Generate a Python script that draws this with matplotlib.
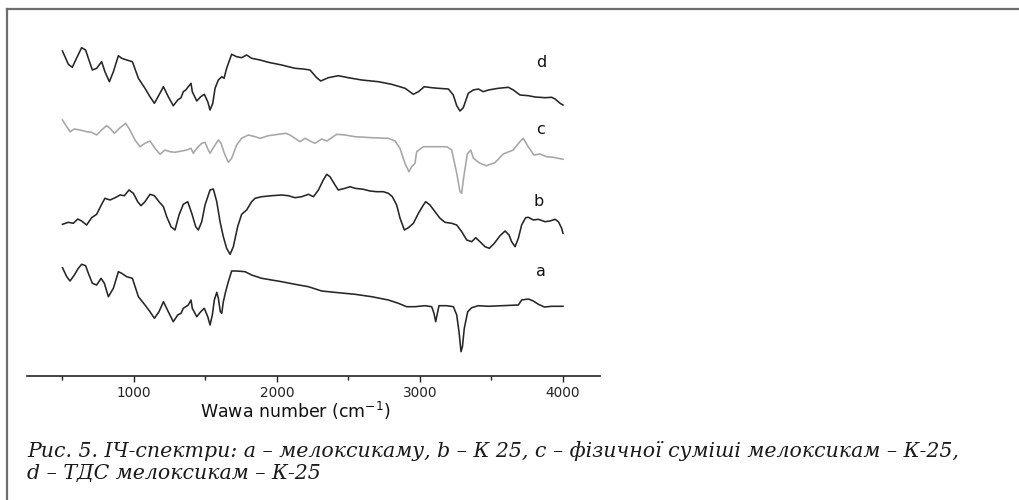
import matplotlib
matplotlib.use("Agg")
import matplotlib.pyplot as plt
from matplotlib.lines import Line2D

# ---------------- data (wavenumber, cm^-1 ; relative transmittance, arb. units, stacked) -------------
wn_a = [500, 530, 553, 583, 611, 634, 662, 681, 709, 739, 770, 793, 821, 856, 891, 914, 949, 989,
        1031, 1077, 1112, 1143, 1175, 1206, 1240, 1275, 1306, 1329, 1345, 1362, 1380, 1399, 1408,
        1439, 1467, 1492, 1516, 1532, 1548, 1562, 1579, 1590, 1604, 1614, 1625, 1641, 1660, 1683,
        1718, 1777, 1823, 1893, 1963, 2033, 2126, 2220, 2313, 2429, 2546, 2662, 2779, 2849, 2907,
        2965, 3035, 3082, 3098, 3110, 3122, 3133, 3187, 3234, 3257, 3273, 3287, 3297, 3310, 3334,
        3362, 3408, 3478, 3572, 3688, 3711, 3758, 3793, 3828, 3870, 3921, 4000]
int_a = [108.3, 99.3, 95.0, 101.0, 107.7, 111.7, 110.3, 102.7, 92.7, 91.0, 97.7, 92.7, 79.3, 87.7,
         104.3, 102.7, 99.3, 97.7, 79.3, 71.0, 64.3, 57.7, 64.3, 74.3, 64.3, 54.3, 61.0, 62.7, 67.7,
         69.3, 71.0, 76.0, 67.7, 59.3, 64.3, 67.7, 59.3, 51.0, 61.0, 76.0, 83.7, 77.7, 64.3, 62.7,
         74.3, 84.3, 94.3, 105.0, 105.0, 104.3, 101.0, 97.7, 96.0, 94.3, 91.7, 89.3, 85.0, 83.3,
         81.7, 79.3, 76.0, 72.7, 69.3, 69.3, 70.3, 69.3, 62.7, 54.3, 62.7, 70.3, 70.3, 69.3, 61.0,
         44.3, 24.3, 29.3, 47.7, 64.3, 68.3, 70.3, 69.7, 70.3, 71.0, 76.0, 77.0, 75.0, 71.7, 69.0,
         69.7, 69.7]

wn_b = [500, 541, 576, 607, 634, 669, 704, 739, 774, 797, 833, 868, 903, 933, 965, 996, 1026, 1049,
        1077, 1112, 1143, 1175, 1206, 1229, 1259, 1287, 1315, 1345, 1376, 1404, 1432, 1450, 1474,
        1497, 1532, 1555, 1579, 1602, 1625, 1648, 1672, 1695, 1725, 1753, 1788, 1823, 1847, 1893,
        1963, 2033, 2080, 2126, 2173, 2220, 2255, 2290, 2324, 2348, 2371, 2406, 2429, 2476, 2511,
        2546, 2604, 2651, 2697, 2744, 2779, 2807, 2837, 2861, 2891, 2919, 2954, 2989, 3024, 3040,
        3070, 3105, 3140, 3175, 3222, 3257, 3292, 3327, 3362, 3390, 3420, 3455, 3485, 3520, 3560,
        3595, 3623, 3641, 3665, 3688, 3711, 3739, 3758, 3793, 3828, 3875, 3910, 3945, 3968, 3991,
        4000]
int_b = [151.7, 153.7, 152.7, 157.0, 155.0, 151.0, 158.3, 161.7, 171.7, 177.7, 176.0, 178.3, 181.0,
         180.3, 186.0, 182.7, 174.3, 170.3, 174.3, 181.7, 180.3, 174.3, 169.3, 159.3, 149.3, 146.0,
         161.0, 171.7, 174.3, 162.7, 149.3, 146.0, 154.3, 171.0, 186.0, 187.0, 174.3, 154.3, 139.3,
         127.7, 121.7, 129.3, 149.3, 161.7, 166.0, 174.3, 177.7, 179.3, 180.3, 181.0, 180.3, 178.3,
         179.3, 181.7, 179.3, 186.0, 196.0, 201.7, 199.3, 191.0, 186.0, 187.7, 189.3, 187.7, 186.7,
         185.0, 184.3, 184.3, 182.7, 179.3, 171.0, 157.7, 146.0, 148.3, 152.7, 162.7, 171.0, 174.3,
         171.0, 164.3, 157.7, 153.7, 152.7, 151.0, 144.3, 136.0, 134.3, 138.3, 134.3, 129.3, 127.7,
         132.7, 140.3, 145.0, 141.0, 134.3, 129.3, 137.7, 151.0, 158.3, 158.7, 156.0, 156.7, 154.3,
         155.0, 156.7, 154.3, 147.7, 142.7]

wn_c = [500, 530, 553, 583, 623, 669, 704, 739, 774, 809, 833, 863, 903, 942, 972, 1007, 1042, 1077,
        1112, 1147, 1182, 1217, 1252, 1287, 1334, 1369, 1399, 1415, 1439, 1474, 1497, 1520, 1532,
        1555, 1590, 1609, 1632, 1660, 1683, 1718, 1753, 1800, 1847, 1882, 1940, 2010, 2061, 2091,
        2126, 2161, 2196, 2231, 2266, 2313, 2348, 2383, 2418, 2476, 2546, 2662, 2779, 2826, 2860,
        2895, 2923, 2942, 2965, 2977, 3023, 3187, 3222, 3257, 3280, 3292, 3303, 3331, 3355, 3374,
        3420, 3466, 3524, 3583, 3652, 3699, 3722, 3757, 3797, 3839, 3886, 3932, 4000]
int_c = [256.0, 249.3, 244.3, 247.0, 246.0, 244.3, 243.7, 241.0, 246.0, 250.3, 247.7, 242.7, 248.3,
         252.7, 246.0, 236.0, 229.3, 232.7, 235.0, 227.7, 221.7, 226.0, 224.3, 223.7, 225.0, 226.0,
         227.7, 222.7, 227.7, 232.7, 233.7, 226.0, 222.7, 228.3, 236.0, 232.7, 222.7, 213.7, 217.7,
         231.0, 237.7, 241.0, 239.3, 237.7, 240.3, 241.7, 242.7, 241.0, 237.7, 234.3, 237.7, 235.0,
         232.7, 237.0, 235.0, 238.3, 241.7, 241.0, 239.3, 238.3, 237.7, 235.0, 227.7, 212.7, 204.3,
         209.3, 212.7, 224.3, 229.3, 229.3, 226.0, 202.7, 184.3, 182.7, 196.0, 222.0, 226.0, 217.7,
         212.7, 210.3, 213.3, 222.0, 226.0, 234.3, 237.7, 229.3, 221.0, 222.0, 219.3, 218.7, 216.7]

wn_d = [500, 541, 569, 600, 634, 662, 681, 709, 739, 774, 797, 828, 856, 891, 914, 949, 989, 1031,
        1077, 1112, 1143, 1175, 1206, 1240, 1275, 1306, 1329, 1345, 1362, 1380, 1399, 1408, 1439,
        1467, 1492, 1516, 1532, 1551, 1567, 1590, 1614, 1630, 1648, 1683, 1718, 1753, 1788, 1823,
        1882, 1940, 2033, 2126, 2185, 2231, 2278, 2306, 2359, 2429, 2499, 2593, 2709, 2802, 2896,
        2954, 2989, 3031, 3082, 3129, 3199, 3233, 3257, 3280, 3303, 3338, 3373, 3408, 3443, 3478,
        3548, 3618, 3653, 3700, 3758, 3805, 3875, 3921, 3945, 3980, 4000]
int_d = [325.0, 311.7, 308.7, 318.3, 328.3, 326.0, 317.7, 306.0, 307.7, 314.3, 304.3, 294.3, 304.3,
         320.3, 317.7, 316.0, 314.3, 297.7, 287.7, 279.3, 272.7, 281.0, 289.3, 279.3, 270.3, 276.0,
         278.3, 284.3, 286.0, 289.3, 292.7, 284.3, 275.0, 279.3, 281.7, 274.3, 266.0, 272.7, 287.7,
         296.0, 299.3, 297.7, 307.7, 321.7, 319.3, 318.3, 321.0, 317.7, 316.0, 313.7, 311.0, 307.7,
         307.0, 306.0, 298.3, 295.0, 298.3, 300.3, 298.3, 296.0, 294.3, 291.7, 287.7, 281.7, 284.3,
         289.3, 288.3, 287.7, 287.0, 281.0, 270.3, 265.0, 268.3, 282.7, 286.0, 287.0, 284.3, 286.0,
         287.7, 288.7, 286.0, 281.0, 280.3, 279.0, 278.3, 278.7, 277.0, 272.7, 271.0]

series_names = ["a", "b", "c", "d"]
label_pos = {"a": (3846, 104), "b": (3832, 175), "c": (3846, 246), "d": (3846, 313.5)}

major_ticks = [1000, 2000, 3000, 4000]
minor_ticks = [500, 1500, 2500, 3500]
xlabel = "Wawa number (cm$^{-1}$)"
caption1 = "Рис. 5. ІЧ-спектри: a – мелоксикаму, b – К 25, c – фізичної суміші мелоксикам – К-25,"
caption2 = "d – ТДС мелоксикам – К-25"

# ---------------- figure ----------------
W, H = 1019, 500
fig = plt.figure(figsize=(W / 100, H / 100), dpi=100)
fig.patch.set_facecolor("white")

ax = fig.add_axes([27 / W, 1 - 376 / H, 573 / W, 356 / H])
ax.set_xlim(252, 4259)
ax.set_ylim(0, 356)

dark = "#262626"
light = "#a6a6a6"
ax.plot(wn_a, int_a, color=dark, lw=1.15)
ax.plot(wn_b, int_b, color=dark, lw=1.15)
ax.plot(wn_c, int_c, color=light, lw=1.15)
ax.plot(wn_d, int_d, color=dark, lw=1.15)

for name in series_names:
    x, y = label_pos[name]
    ax.text(x, y, name, ha="center", va="center", fontsize=11.5,
            family="DejaVu Sans", color="#111111")

for s in ["top", "right", "left"]:
    ax.spines[s].set_visible(False)
ax.spines["bottom"].set_linewidth(1.2)
ax.spines["bottom"].set_color("#222222")
ax.set_yticks([])
ax.set_xticks(major_ticks)
ax.set_xticks(minor_ticks, minor=True)
ax.tick_params(axis="x", which="major", direction="out", length=4.5, width=1.0,
               labelsize=9.8, pad=3, colors="#222222")
ax.tick_params(axis="x", which="minor", direction="out", length=3, width=1.0, colors="#222222")
for lbl in ax.get_xticklabels():
    lbl.set_family("DejaVu Sans")
ax.set_xlabel(xlabel, fontsize=12.5, family="DejaVu Sans", color="#111111")
ax.xaxis.set_label_coords(0.468, -0.068)

# frame lines (top and left) of the figure panel
fig.add_artist(Line2D([7 / W, 1.0], [1 - 9 / H, 1 - 9 / H], transform=fig.transFigure,
                      color="#6e6e6e", lw=1.6))
fig.add_artist(Line2D([7 / W, 7 / W], [1 - 9 / H, 0.0], transform=fig.transFigure,
                      color="#6e6e6e", lw=1.6))

# caption
t1 = fig.text(27 / W, 1 - 451 / H, caption1, ha="left", va="center", fontsize=11,
              family="DejaVu Serif", style="italic", color="#1a1a1a")
t2 = fig.text(27 / W, 1 - 473 / H, caption2, ha="left", va="center", fontsize=11,
              family="DejaVu Serif", style="italic", color="#1a1a1a")
fig.canvas.draw()
r = fig.canvas.get_renderer()
w1 = t1.get_window_extent(r).width
fs = 11 * 931 / w1
t1.set_fontsize(fs)
t2.set_fontsize(fs)

fig.savefig("out.png", dpi=100)
